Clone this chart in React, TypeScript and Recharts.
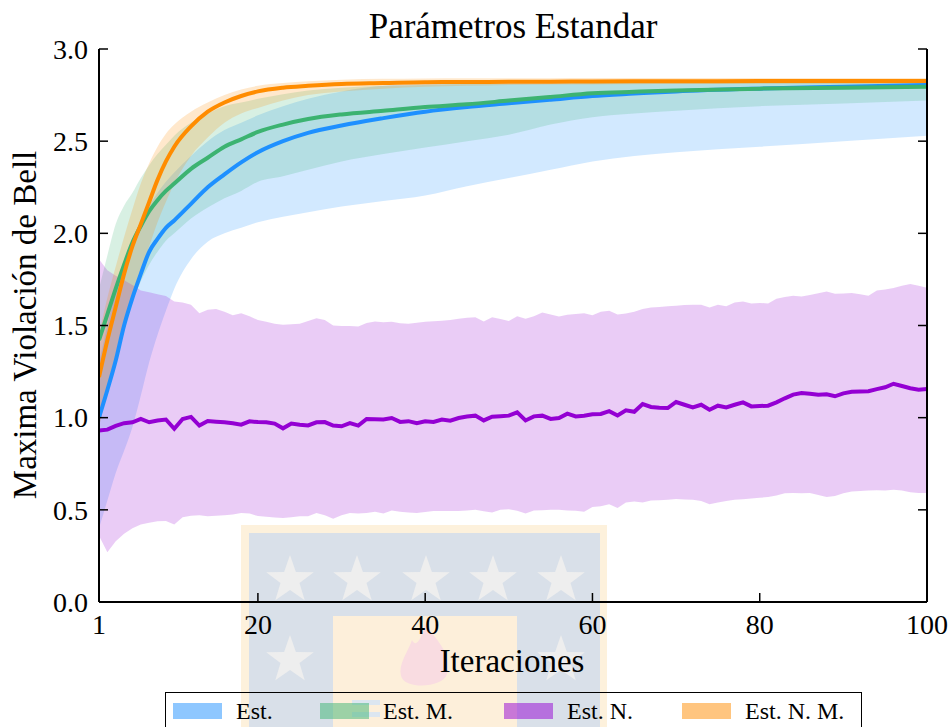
// Maximum Bell violation per iteration for the four standard-parameter variants

import React from 'react'
import { ComposedChart, Area, Line, XAxis, YAxis, Legend } from 'recharts'

const SERIF = '"Liberation Serif", "DejaVu Serif", serif'

// plot box edges, used by the inward tick marks
const PLOT = { left: 99, right: 927, top: 49, bottom: 602 }
const TICK_LEN = 9

// iterations sampled for the smooth curves
const SMOOTH_ITERS = [1, 2, 3, 4, 5, 6, 7, 8, 9, 10, 12, 14, 16, 18, 20, 23, 26, 30, 35, 40, 45, 50, 55, 60, 65, 70, 80, 90, 100]

// Est.
const EST_MEAN = [1.0, 1.15, 1.31, 1.5, 1.65, 1.78, 1.9, 1.97, 2.03, 2.07, 2.16, 2.25, 2.32, 2.385, 2.44, 2.5, 2.545, 2.585, 2.625, 2.66, 2.685, 2.705, 2.725, 2.745, 2.758, 2.77, 2.785, 2.795, 2.805]
const EST_LOW = [0.4, 0.55, 0.7, 0.82, 0.95, 1.12, 1.3, 1.45, 1.58, 1.7, 1.86, 1.955, 2.0, 2.03, 2.06, 2.09, 2.115, 2.145, 2.175, 2.205, 2.255, 2.3, 2.345, 2.39, 2.42, 2.44, 2.47, 2.5, 2.53]
const EST_HIGH = [1.3, 1.5, 1.7, 1.85, 1.97, 2.07, 2.15, 2.22, 2.28, 2.33, 2.42, 2.5, 2.56, 2.6, 2.64, 2.69, 2.73, 2.77, 2.8, 2.81, 2.815, 2.82, 2.822, 2.825, 2.827, 2.828, 2.83, 2.83, 2.83]

// Est. M.
const EST_M_MEAN = [1.42, 1.56, 1.7, 1.83, 1.95, 2.04, 2.12, 2.18, 2.23, 2.27, 2.35, 2.41, 2.47, 2.51, 2.55, 2.59, 2.62, 2.645, 2.665, 2.685, 2.7, 2.72, 2.74, 2.76, 2.768, 2.775, 2.785, 2.79, 2.795]
const EST_M_LOW = [0.95, 1.15, 1.33, 1.5, 1.63, 1.74, 1.83, 1.9, 1.96, 2.0, 2.08, 2.14, 2.19, 2.23, 2.28, 2.31, 2.345, 2.39, 2.43, 2.465, 2.5, 2.535, 2.59, 2.63, 2.65, 2.665, 2.69, 2.705, 2.72]
const EST_M_HIGH = [1.7, 1.88, 2.05, 2.15, 2.22, 2.3, 2.37, 2.43, 2.48, 2.53, 2.6, 2.65, 2.69, 2.71, 2.73, 2.755, 2.775, 2.79, 2.8, 2.805, 2.81, 2.81, 2.812, 2.815, 2.816, 2.817, 2.818, 2.819, 2.82]

// Est. N. M.
const EST_NM_MEAN = [1.22, 1.42, 1.6, 1.78, 1.93, 2.05, 2.17, 2.29, 2.39, 2.47, 2.58, 2.66, 2.71, 2.745, 2.77, 2.79, 2.8, 2.81, 2.815, 2.82, 2.821, 2.822, 2.823, 2.824, 2.825, 2.825, 2.826, 2.826, 2.826]
const EST_NM_LOW = [0.95, 1.15, 1.35, 1.52, 1.67, 1.8, 1.93, 2.06, 2.17, 2.27, 2.42, 2.52, 2.6, 2.65, 2.68, 2.72, 2.75, 2.77, 2.785, 2.795, 2.8, 2.805, 2.807, 2.808, 2.809, 2.81, 2.81, 2.81, 2.81]
const EST_NM_HIGH = [1.45, 1.65, 1.82, 1.98, 2.13, 2.27, 2.38, 2.47, 2.54, 2.59, 2.66, 2.71, 2.75, 2.78, 2.8, 2.815, 2.825, 2.833, 2.838, 2.84, 2.841, 2.842, 2.842, 2.843, 2.843, 2.843, 2.843, 2.843, 2.843]

// Est. N. (every iteration)
const ALL_ITERS = Array.from({ length: 100 }, (_, i) => i + 1)
const EST_N_MEAN = [
  0.93, 0.935, 0.955, 0.97, 0.975, 0.993, 0.975, 0.985, 0.99, 0.94,
  0.993, 1.004, 0.957, 0.982, 0.978, 0.975, 0.97, 0.962, 0.98, 0.976,
  0.975, 0.968, 0.942, 0.968, 0.962, 0.958, 0.975, 0.976, 0.957, 0.953,
  0.97, 0.957, 0.993, 0.992, 0.99, 0.998, 0.977, 0.981, 0.97, 0.98,
  0.977, 0.99, 0.984, 0.998, 1.006, 1.011, 0.985, 1.005, 1.008, 1.011,
  1.029, 0.985, 1.007, 1.011, 0.993, 0.998, 1.022, 1.007, 1.01, 1.018,
  1.02, 1.035, 1.012, 1.04, 1.032, 1.074, 1.058, 1.054, 1.052, 1.085,
  1.07, 1.056, 1.07, 1.043, 1.065, 1.056, 1.07, 1.083, 1.061, 1.063,
  1.065, 1.083, 1.105, 1.125, 1.134, 1.13, 1.125, 1.127, 1.116, 1.132,
  1.14, 1.142, 1.143, 1.155, 1.165, 1.184, 1.172, 1.16, 1.152, 1.156,
]
const EST_N_HIGH = [
  1.86, 1.8, 1.77, 1.745, 1.72, 1.69, 1.68, 1.67, 1.66, 1.63,
  1.625, 1.612, 1.567, 1.585, 1.59, 1.575, 1.556, 1.567, 1.55, 1.53,
  1.52, 1.51, 1.504, 1.507, 1.51, 1.525, 1.54, 1.53, 1.5, 1.497,
  1.497, 1.495, 1.513, 1.522, 1.518, 1.52, 1.512, 1.51, 1.515, 1.52,
  1.523, 1.526, 1.53, 1.536, 1.542, 1.545, 1.522, 1.545, 1.535, 1.524,
  1.55, 1.536, 1.55, 1.571, 1.56, 1.549, 1.558, 1.563, 1.567, 1.555,
  1.575, 1.58, 1.56, 1.565, 1.575, 1.589, 1.598, 1.6, 1.605, 1.607,
  1.611, 1.612, 1.613, 1.598, 1.613, 1.605, 1.625, 1.63, 1.62, 1.622,
  1.62, 1.645, 1.655, 1.661, 1.658, 1.665, 1.675, 1.685, 1.672, 1.674,
  1.676, 1.67, 1.661, 1.69, 1.695, 1.703, 1.715, 1.725, 1.715, 1.705,
]
const EST_N_LOW = [
  0.36, 0.27, 0.33, 0.37, 0.4, 0.42, 0.43, 0.438, 0.44, 0.42,
  0.46, 0.468, 0.47, 0.465, 0.468, 0.47, 0.475, 0.483, 0.48, 0.466,
  0.462, 0.458, 0.456, 0.46, 0.465, 0.465, 0.483, 0.47, 0.451, 0.47,
  0.483, 0.48, 0.483, 0.49, 0.48, 0.496, 0.49, 0.486, 0.483, 0.488,
  0.494, 0.494, 0.493, 0.494, 0.497, 0.5, 0.492, 0.485, 0.5, 0.503,
  0.495, 0.48, 0.496, 0.498, 0.5, 0.5, 0.497, 0.495, 0.49, 0.515,
  0.52, 0.53, 0.51, 0.54, 0.545, 0.54, 0.55, 0.552, 0.555, 0.559,
  0.556, 0.555, 0.548, 0.53, 0.54, 0.548, 0.555, 0.558, 0.562, 0.565,
  0.57, 0.578, 0.59, 0.592, 0.59, 0.592, 0.58, 0.57, 0.575, 0.59,
  0.6, 0.602, 0.605, 0.606, 0.605, 0.609, 0.605, 0.595, 0.592, 0.592,
]

const X_TICKS = [1, 20, 40, 60, 80, 100]
const Y_TICKS = [0, 0.5, 1, 1.5, 2, 2.5, 3]

const LEGEND_LABELS = ['Est.', 'Est. M.', 'Est. N.', 'Est. N. M.']
const LEGEND_COLORS = ['#1E90FF', '#3CB371', '#9400D3', '#FF8C00']
// left offset of each legend entry inside the box
const LEGEND_OFFSETS = [7, 154, 338, 516]

const build = (iters: number[], mean: number[], low: number[], high: number[]) =>
  iters.map((it, i) => ({ it, mean: mean[i], band: [low[i], high[i]] }))

const estData = build(SMOOTH_ITERS, EST_MEAN, EST_LOW, EST_HIGH)
const estMData = build(SMOOTH_ITERS, EST_M_MEAN, EST_M_LOW, EST_M_HIGH)
const estNData = build(ALL_ITERS, EST_N_MEAN, EST_N_LOW, EST_N_HIGH)
const estNMData = build(SMOOTH_ITERS, EST_NM_MEAN, EST_NM_LOW, EST_NM_HIGH)

// five-point star path for the background crest
const star = (cx: number, cy: number, r: number) => {
  const pts: string[] = []
  for (let k = 0; k < 10; k++) {
    const rad = k % 2 === 0 ? r : r * 0.4
    const a = -Math.PI / 2 + (k * Math.PI) / 5
    pts.push(`${(cx + rad * Math.cos(a)).toFixed(1)},${(cy + rad * Math.sin(a)).toFixed(1)}`)
  }
  return pts.join(' ')
}

const Crest = () => (
  <g>
    <rect x={241} y={525} width={366} height={220} fill="#FDF1DC" />
    <rect x={249} y={533} width={351} height={210} fill="#D9E0E9" />
    {[290, 357, 426, 493, 561].map((cx) => (
      <polygon key={cx} points={star(cx, 580, 25)} fill="#EEEEEE" />
    ))}
    <polygon points={star(290, 660, 25)} fill="#EEEEEE" />
    <polygon points={star(561, 660, 25)} fill="#EEEEEE" />
    <rect x={333} y={616} width={184} height={130} fill="#FDEFDA" />
    <path d="M425,624 C436,640 452,652 447,674 C443,688 405,690 401,676 C398,664 408,652 412,640 C416,648 421,640 425,624 Z" fill="#F9DCE1" />
    <rect x={352} y={700} width={28} height={5} fill="#DCE6F0" />
    <rect x={352} y={712} width={28} height={5} fill="#DCE6F0" />
  </g>
)

const LegendBox = () => (
  <div
    style={{
      position: 'relative',
      boxSizing: 'border-box',
      width: 697,
      height: 50,
      border: '1.5px solid #000',
      fontFamily: SERIF,
      fontSize: 24,
      color: '#000',
      whiteSpace: 'nowrap',
    }}
  >
    {LEGEND_LABELS.map((label, i) => (
      <div key={label} style={{ position: 'absolute', left: LEGEND_OFFSETS[i], top: 9, display: 'flex', alignItems: 'center' }}>
        <span style={{ display: 'inline-block', width: 49, height: 16, background: LEGEND_COLORS[i], opacity: 0.5, marginRight: 14 }} />
        <span style={{ lineHeight: '18px' }}>{label}</span>
      </div>
    ))}
  </div>
)

// tick marks point into the plot box, as on a matplotlib frame
const LeftTick = ({ y, payload }: any) => (
  <g>
    <line x1={PLOT.left} x2={PLOT.left + TICK_LEN} y1={y} y2={y} stroke="#000" strokeWidth={1.5} />
    <text x={PLOT.left - 11} y={y} dy="0.35em" textAnchor="end" fontFamily={SERIF} fontSize={28} fill="#000">
      {Number(payload.value).toFixed(1)}
    </text>
  </g>
)

const RightTick = ({ y }: any) => (
  <line x1={PLOT.right - TICK_LEN} x2={PLOT.right} y1={y} y2={y} stroke="#000" strokeWidth={1.5} />
)

const BottomTick = ({ x, payload }: any) => (
  <g>
    <line x1={x} x2={x} y1={PLOT.bottom} y2={PLOT.bottom - TICK_LEN} stroke="#000" strokeWidth={1.5} />
    <text x={x} y={PLOT.bottom + 32} textAnchor="middle" fontFamily={SERIF} fontSize={28} fill="#000">
      {payload.value}
    </text>
  </g>
)

const TopTick = ({ x }: any) => (
  <line x1={x} x2={x} y1={PLOT.top} y2={PLOT.top + TICK_LEN} stroke="#000" strokeWidth={1.5} />
)

export default function App() {
  const axisLine = { stroke: '#000', strokeWidth: 2 }

  return (
    <div style={{ position: 'absolute', left: 0, top: 0, width: 949, height: 727, overflow: 'hidden', background: '#fff' }}>
      <svg width={949} height={727} style={{ position: 'absolute', left: 0, top: 0 }}>
        <Crest />
        <text x={513} y={38} textAnchor="middle" fontFamily={SERIF} fontSize={35} fill="#000">Parámetros Estandar</text>
        <text x={512} y={672} textAnchor="middle" fontFamily={SERIF} fontSize={33} fill="#000">Iteraciones</text>
        <text x={36} y={325} textAnchor="middle" fontFamily={SERIF} fontSize={33} fill="#000" transform="rotate(-90 36 325)">
          Maxima Violación de Bell
        </text>
      </svg>
      <div style={{ position: 'absolute', left: 0, top: 0 }}>
        <ComposedChart width={949} height={727} margin={{ top: PLOT.top, right: 0, bottom: 95, left: 0 }}>
          <XAxis
            xAxisId="bottom"
            type="number"
            dataKey="it"
            domain={[1, 100]}
            ticks={X_TICKS}
            allowDataOverflow
            axisLine={axisLine}
            tickLine={false}
            tick={<BottomTick />}
            height={30}
          />
          <XAxis
            xAxisId="top"
            orientation="top"
            type="number"
            dataKey="it"
            domain={[1, 100]}
            ticks={X_TICKS}
            allowDataOverflow
            axisLine={axisLine}
            tickLine={false}
            tick={<TopTick />}
            height={0}
          />
          <YAxis
            yAxisId="left"
            domain={[0, 3]}
            ticks={Y_TICKS}
            allowDataOverflow
            axisLine={axisLine}
            tickLine={false}
            tick={<LeftTick />}
            width={PLOT.left}
          />
          <YAxis
            yAxisId="right"
            orientation="right"
            domain={[0, 3]}
            ticks={Y_TICKS}
            allowDataOverflow
            axisLine={axisLine}
            tickLine={false}
            tick={<RightTick />}
            width={949 - PLOT.right}
          />

          <Area xAxisId="bottom" yAxisId="left" data={estData} dataKey="band" type="monotone" stroke="none" fill="#1E90FF" fillOpacity={0.2} isAnimationActive={false} />
          <Area xAxisId="bottom" yAxisId="left" data={estMData} dataKey="band" type="monotone" stroke="none" fill="#3CB371" fillOpacity={0.2} isAnimationActive={false} />
          <Area xAxisId="bottom" yAxisId="left" data={estNData} dataKey="band" type="linear" stroke="none" fill="#9400D3" fillOpacity={0.2} isAnimationActive={false} />
          <Area xAxisId="bottom" yAxisId="left" data={estNMData} dataKey="band" type="monotone" stroke="none" fill="#FF8C00" fillOpacity={0.2} isAnimationActive={false} />

          <Line xAxisId="bottom" yAxisId="left" data={estData} dataKey="mean" type="monotone" stroke="#1E90FF" strokeWidth={4} dot={false} isAnimationActive={false} />
          <Line xAxisId="bottom" yAxisId="left" data={estMData} dataKey="mean" type="monotone" stroke="#3CB371" strokeWidth={4} dot={false} isAnimationActive={false} />
          <Line xAxisId="bottom" yAxisId="left" data={estNData} dataKey="mean" type="linear" stroke="#9400D3" strokeWidth={4} dot={false} isAnimationActive={false} />
          <Line xAxisId="bottom" yAxisId="left" data={estNMData} dataKey="mean" type="monotone" stroke="#FF8C00" strokeWidth={4} dot={false} isAnimationActive={false} />

          <Legend
            layout="horizontal"
            verticalAlign="middle"
            align="center"
            content={() => <LegendBox />}
            wrapperStyle={{ left: 165, top: 692, width: 697, height: 50 }}
          />
        </ComposedChart>
      </div>
    </div>
  )
}
